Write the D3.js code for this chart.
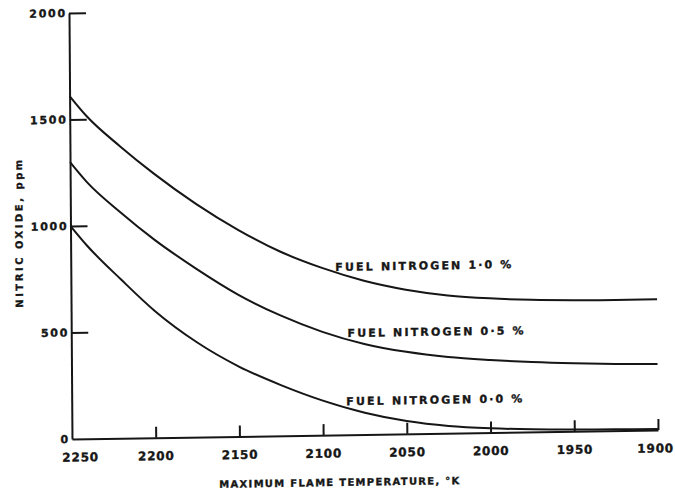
<!DOCTYPE html>
<html>
<head>
<meta charset="utf-8">
<script src="https://cdn.jsdelivr.net/npm/d3@7"></script>
<style>
  body { margin: 0; background: #fff; }
  svg { display: block; }
  text { font-family: "DejaVu Sans", sans-serif; font-weight: bold; fill: #161616; stroke: #161616; stroke-width: 0.35px; }
  .axis path, .axis line { stroke: #161616; stroke-width: 2; }
</style>
</head>
<body>
<svg class="chart"></svg>
<script>
// maximum flame temperature, K (axis runs hot -> cold)
var temps = [2250, 2240, 2220, 2200, 2175, 2150, 2125, 2100, 2075, 2050, 2025, 2000, 1975, 1950, 1925, 1900];

// nitric oxide, ppm, one array per fuel nitrogen level
var fuelN10 = [1610, 1515, 1370, 1240, 1095, 970, 865, 785, 722, 677, 647, 630, 620, 615, 613, 614];
var fuelN05 = [1300, 1205, 1060, 930, 790, 665, 565, 485, 425, 385, 358, 341, 328, 319, 313, 310];
var fuelN00 = [1000, 905, 745, 595, 445, 328, 238, 162, 102, 60, 34, 20, 12, 8, 6, 5];

var seriesLabels = ["FUEL NITROGEN 1\u00b70 %", "FUEL NITROGEN 0\u00b75 %", "FUEL NITROGEN 0\u00b70 %"];

var xTicks = [2250, 2200, 2150, 2100, 2050, 2000, 1950, 1900];
var yTicks = [0, 500, 1000, 1500, 2000];

var xTitle = "MAXIMUM FLAME TEMPERATURE, \u00b0K";
var yTitle = "NITRIC OXIDE, ppm";

// plot area size
var width = 586;
var height = 426;

var svg = d3.select(".chart")
    .attr("width", 675)
    .attr("height", 495);

// the scanned figure sits a little crooked, so the plot group is sheared to follow it
var g = svg.append("g")
    .attr("transform", "matrix(1,-0.0154,0.007,1,69,13)");

var x = d3.scaleLinear().domain([2250, 1900]).range([0, width]);
var y = d3.scaleLinear().domain([0, 2000]).range([height, 0]);

// axes, ticks pointing inward
g.append("g")
    .attr("class", "axis")
    .attr("transform", "translate(0," + height + ")")
    .call(d3.axisBottom(x).tickValues(xTicks).tickFormat(d3.format("d"))
      .tickSizeInner(-11).tickSizeOuter(0).tickPadding(14))
    .call(function(a) {
      a.selectAll("text").attr("font-size", 12).attr("letter-spacing", "0.8px");
      a.selectAll(".tick").filter(function(d) { return d === 2250; })
        .call(function(t) { t.select("line").remove(); t.select("text").attr("dx", 8); });
      a.selectAll(".tick").filter(function(d) { return d === 1900; })
        .select("text").attr("dx", -3);
    });

g.append("g")
    .attr("class", "axis")
    .call(d3.axisLeft(y).tickValues(yTicks).tickFormat(d3.format("d"))
      .tickSizeInner(-17).tickSizeOuter(0).tickPadding(2))
    .call(function(a) {
      a.selectAll("text").attr("font-size", 11).attr("letter-spacing", "1.8px");
      a.selectAll(".tick").filter(function(d) { return d === 0; }).select("line").remove();
    });

// curves
var line = d3.line()
    .x(function(d) { return x(d[0]); })
    .y(function(d) { return y(d[1]); })
    .curve(d3.curveMonotoneX);

[fuelN10, fuelN05, fuelN00].forEach(function(vals) {
  g.append("path")
      .datum(temps.map(function(t, i) { return [t, vals[i]]; }))
      .attr("fill", "none")
      .attr("stroke", "#161616")
      .attr("stroke-width", 2)
      .attr("d", line);
});

// curve labels, anchored in data units
var labelSpots = [[2092, 770], [2085, 459], [2086, 139]];
seriesLabels.forEach(function(s, i) {
  g.append("text")
      .attr("x", x(labelSpots[i][0]))
      .attr("y", y(labelSpots[i][1]))
      .attr("font-size", 11)
      .attr("textLength", 176)
      .attr("lengthAdjust", "spacing")
      .text(s);
});

// axis titles
g.append("text")
    .attr("x", width / 2 - 26)
    .attr("y", height + 51)
    .attr("text-anchor", "middle")
    .attr("font-size", 10)
    .attr("textLength", 240)
    .attr("lengthAdjust", "spacing")
    .text(xTitle);

g.append("text")
    .attr("transform", "translate(-48," + (height / 2 + 7) + ") rotate(-90)")
    .attr("text-anchor", "middle")
    .attr("font-size", 10)
    .attr("textLength", 148)
    .attr("lengthAdjust", "spacing")
    .text(yTitle);
</script>
</body>
</html>
